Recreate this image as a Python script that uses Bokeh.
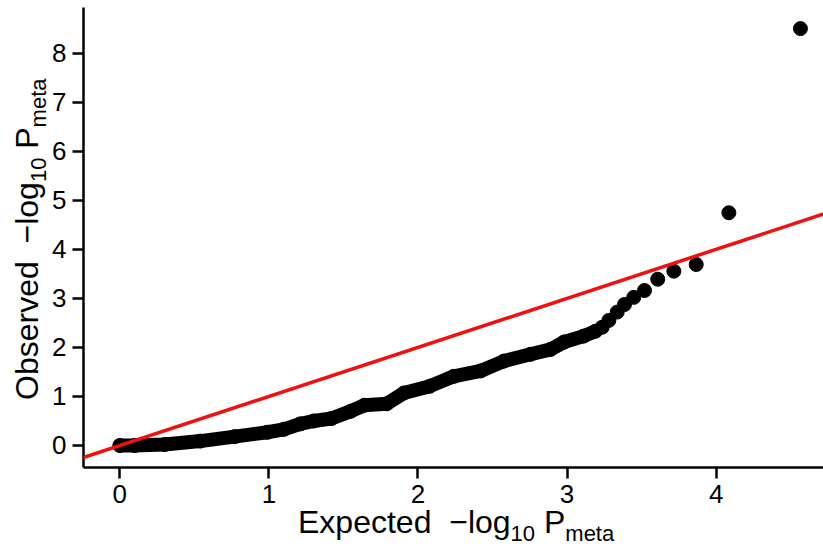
from bokeh.plotting import figure
from bokeh.models import Range1d, Slope, Div
from bokeh.layouts import row, column
from bokeh.embed import file_html
from bokeh.resources import INLINE

# --- data (expected vs observed -log10 P) ---
exp_dense = [0.0, 0.1, 0.3, 0.54, 0.77, 0.99, 1.1, 1.21, 1.3, 1.42, 1.55, 1.64,
             1.79, 1.905, 2.08, 2.24, 2.42, 2.575, 2.755, 2.89, 2.98, 3.11, 3.19]
obs_dense = [0.0, 0.0, 0.02, 0.09, 0.18, 0.27, 0.33, 0.44, 0.50, 0.55, 0.70, 0.82,
             0.85, 1.07, 1.21, 1.41, 1.52, 1.72, 1.86, 1.96, 2.11, 2.23, 2.33]
exp_tail = [3.235, 3.28, 3.336, 3.385, 3.447, 3.519, 3.608, 3.716, 3.866, 4.085, 4.565]
obs_tail = [2.41, 2.55, 2.72, 2.875, 3.02, 3.16, 3.39, 3.554, 3.69, 4.745, 8.50]
x_ticks = [0, 1, 2, 3, 4]
y_ticks = [0, 1, 2, 3, 4, 5, 6, 7, 8]
x_title = "Expected"
y_title = "Observed"

FONT = "Liberation Sans"
YDIV_W = 48
PW, PH = 823 - YDIV_W, 518
XDIV_H = 546 - PH
X0, X1 = -0.2435, 4.7197
Y0, Y1 = -0.4486, 8.93

p = figure(width=PW, height=PH, output_backend="svg", toolbar_location=None,
           x_range=Range1d(X0, X1), y_range=Range1d(Y0, Y1),
           min_border_left=35, min_border_right=0, min_border_top=7,
           min_border_bottom=51, margin=0)
p.outline_line_color = None
p.grid.visible = False
p.background_fill_color = "white"

for ax in (p.xaxis[0], p.yaxis[0]):
    ax.axis_line_width = 2.5
    ax.axis_line_color = "black"
    ax.major_tick_line_width = 2.5
    ax.major_tick_line_color = "black"
    ax.major_tick_out = 11
    ax.major_tick_in = 0
    ax.minor_tick_line_color = None
    ax.major_label_text_font = FONT
    ax.major_label_text_font_size = "26px"
    ax.major_label_text_color = "black"
p.xaxis.ticker = x_ticks
p.yaxis.ticker = y_ticks
p.xaxis.major_label_standoff = 6
p.yaxis.major_label_standoff = 6

p.add_layout(Slope(gradient=1, y_intercept=0, line_color="#ee1111", line_width=3.5))

p.line(exp_dense, obs_dense, line_width=14, line_color="black",
       line_join="round", line_cap="round")
p.scatter(exp_dense + exp_tail, obs_dense + obs_tail, size=14,
          fill_color="black", line_color="black")


def label_html(word):
    sub = 'style="font-size:22px;position:relative;top:8px"'
    return (f'{word}&nbsp;&nbsp;\u2212log<span {sub}>10</span>'
            f'&nbsp;P<span {sub}>meta</span>')


text_style = (f"white-space:nowrap;font-family:'{FONT}';font-size:32px;"
              "line-height:32px;color:black;")

ydiv = Div(width=YDIV_W, height=546, margin=0, styles={"overflow": "visible"},
           text=(f'<div style="position:relative;width:{YDIV_W}px;height:546px;">'
                 f'<div style="position:absolute;left:11px;top:400px;'
                 f'transform-origin:0 0;transform:rotate(-90deg);{text_style}">'
                 f'{label_html(y_title)}</div></div>'))

xdiv = Div(width=PW, height=XDIV_H, margin=0, styles={"overflow": "visible"},
           text=(f'<div style="position:relative;width:{PW}px;height:{XDIV_H}px;">'
                 f'<div style="position:absolute;left:250px;top:-12px;{text_style}">'
                 f'{label_html(x_title)}</div></div>'))

layout = row(ydiv, column(p, xdiv, spacing=0, margin=0), spacing=0, margin=0)

open("out.html", "w").write(file_html(layout, INLINE))
